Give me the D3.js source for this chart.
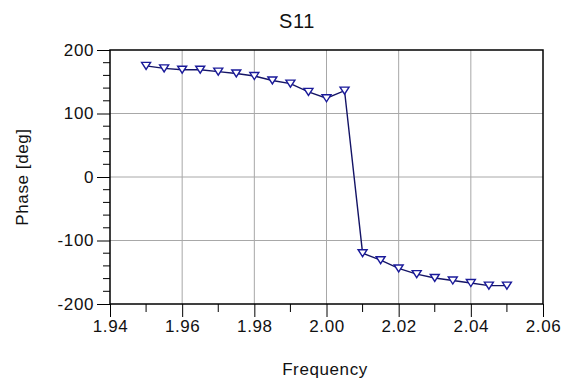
<!DOCTYPE html>
<html>
<head>
<meta charset="utf-8">
<script src="https://cdn.jsdelivr.net/npm/d3@7"></script>
<style>
  body { margin: 0; background: #fff; }
  text { font-family: "Liberation Sans", Arial, sans-serif; fill: #111; }
</style>
</head>
<body>
<svg id="chart" width="571" height="386"></svg>
<script>
// S11 phase vs frequency
const freq = [1.950, 1.955, 1.960, 1.965, 1.970, 1.975, 1.980, 1.985, 1.990, 1.995, 2.000,
              2.005, 2.010, 2.015, 2.020, 2.025, 2.030, 2.035, 2.040, 2.045, 2.050];
const phase = [175, 171, 169, 169, 166, 163, 159, 152, 147, 134, 124,
               136, -120, -131, -144, -153, -159, -163, -167, -171, -171];
const xTicks = [1.94, 1.96, 1.98, 2.00, 2.02, 2.04, 2.06];
const yTicks = [-200, -100, 0, 100, 200];

const margin = { top: 50, left: 110, right: 28, bottom: 82 };
const width = 571, height = 386;

const svg = d3.select("#chart");

const x = d3.scaleLinear().domain([1.94, 2.06]).range([margin.left, width - margin.right]);
const y = d3.scaleLinear().domain([-200, 200]).range([height - margin.bottom, margin.top]);

// grid
svg.append("g")
  .selectAll("line")
  .data(xTicks.slice(1, -1))
  .join("line")
  .attr("x1", d => x(d)).attr("x2", d => x(d))
  .attr("y1", y(200)).attr("y2", y(-200))
  .attr("stroke", "#a8a8a8").attr("stroke-width", 1);
svg.append("g")
  .selectAll("line")
  .data(yTicks.slice(1, -1))
  .join("line")
  .attr("y1", d => y(d)).attr("y2", d => y(d))
  .attr("x1", x(1.94)).attr("x2", x(2.06))
  .attr("stroke", "#a8a8a8").attr("stroke-width", 1);

// minor ticks
const xMinor = d3.range(1.95, 2.06, 0.02);
const yMinor = d3.range(-180, 200, 20).filter(v => v % 100 !== 0);

const xAxis = svg.append("g")
  .attr("transform", `translate(0,${y(-200)})`)
  .call(d3.axisBottom(x).tickValues(xTicks).tickFormat(d3.format(".2f")).tickSize(13).tickPadding(3));
xAxis.append("g").selectAll("line")
  .data(xMinor).join("line")
  .attr("x1", d => x(d)).attr("x2", d => x(d))
  .attr("y1", 0).attr("y2", 8).attr("stroke", "#000");

const yAxis = svg.append("g")
  .attr("transform", `translate(${x(1.94)},0)`)
  .call(d3.axisLeft(y).tickValues(yTicks).tickFormat(d => String(d)).tickSize(13).tickPadding(3));
yAxis.append("g").selectAll("line")
  .data(yMinor).join("line")
  .attr("y1", d => y(d)).attr("y2", d => y(d))
  .attr("x1", 0).attr("x2", -7).attr("stroke", "#000");

[xAxis, yAxis].forEach(g => {
  g.select(".domain").remove();
  g.selectAll(".tick line").attr("stroke", "#000");
  g.selectAll("text").attr("font-size", "17px").attr("fill", "#111")
    .attr("letter-spacing", "0.6px")
    .attr("font-family", "'Liberation Sans', Arial, sans-serif");
});

// frame
svg.append("rect")
  .attr("x", x(1.94)).attr("y", y(200))
  .attr("width", x(2.06) - x(1.94)).attr("height", y(-200) - y(200))
  .attr("fill", "none").attr("stroke", "#000").attr("stroke-width", 1.5);

// line
const pts = freq.map((f, i) => [f, phase[i]]);
svg.append("path")
  .datum(pts)
  .attr("fill", "none")
  .attr("stroke", "#141466")
  .attr("stroke-width", 1.4)
  .attr("d", d3.line().x(d => x(d[0])).y(d => y(d[1])));

// down triangle markers
svg.append("g")
  .selectAll("path")
  .data(pts)
  .join("path")
  .attr("transform", d => `translate(${x(d[0])},${y(d[1])})`)
  .attr("d", "M-4.5,-3.5L4.5,-3.5L0,3.5Z")
  .attr("fill", "#fff")
  .attr("stroke", "#1a1a9a")
  .attr("stroke-width", 1.4);

// labels
svg.append("text")
  .attr("x", 297).attr("y", 28)
  .attr("text-anchor", "middle")
  .attr("font-size", "20px")
  .attr("letter-spacing", "0.6px")
  .text("S11");

svg.append("text")
  .attr("x", 325).attr("y", 375)
  .attr("text-anchor", "middle")
  .attr("font-size", "17px")
  .attr("letter-spacing", "0.6px")
  .text("Frequency");

svg.append("text")
  .attr("transform", "translate(28,177) rotate(-90)")
  .attr("text-anchor", "middle")
  .attr("font-size", "17px")
  .attr("letter-spacing", "0.6px")
  .text("Phase [deg]");
</script>
</body>
</html>
